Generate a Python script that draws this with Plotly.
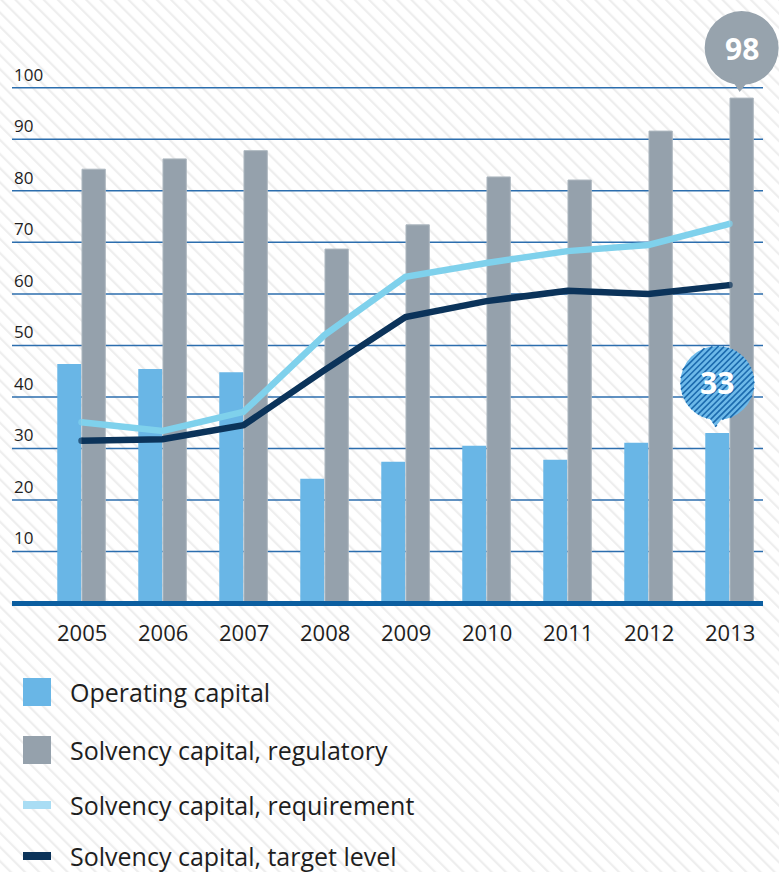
import base64
import math
import plotly.graph_objects as go

# ---- data -------------------------------------------------------------
years = ["2005", "2006", "2007", "2008", "2009", "2010", "2011", "2012", "2013"]
operating_capital = [46.4, 45.4, 44.8, 24.1, 27.4, 30.5, 27.8, 31.1, 33]
solvency_regulatory = [84.2, 86.2, 87.8, 68.7, 73.4, 82.7, 82.1, 91.6, 98]
solvency_requirement = [35.1, 33.4, 37.1, 52.0, 63.3, 66.0, 68.3, 69.5, 73.6]
solvency_target = [31.5, 31.8, 34.5, 45.2, 55.5, 58.6, 60.6, 60.0, 61.7]
y_ticks = [10, 20, 30, 40, 50, 60, 70, 80, 90, 100]

legend_labels = [
    "Operating capital",
    "Solvency capital, regulatory",
    "Solvency capital, requirement",
    "Solvency capital, target level",
]

# ---- styling ----------------------------------------------------------
W, H = 779, 872
FONT = "Open Sans"
C_OPER = "#69B6E6"
C_REG = "#95A1AC"
C_REQ = "#7FD1EC"
C_TGT = "#0B335A"
C_GRID = "#2C6EAE"
C_BASE = "#0B5EA0"
C_TEXT = "#1E1E1E"

# pixel geometry of the plotting frame
PX_PER_UNIT = 5.152
ZERO_PX = 603.0
X0_PX, STEP_PX = 81.5, 81.0
GRID_L, GRID_R = 12 / W, 763 / W

y_range = [(ZERO_PX - H) / PX_PER_UNIT, ZERO_PX / PX_PER_UNIT]
x_range = [(0 - X0_PX) / STEP_PX, (W - X0_PX) / STEP_PX]


def py(p):
    """Figure pixel row -> paper fraction (margins are zero)."""
    return 1 - p / H


fig = go.Figure()

fig.add_trace(go.Bar(
    x=years, y=operating_capital, name=legend_labels[0],
    marker=dict(color=C_OPER, line=dict(width=0)),
    width=0.296, offset=-0.299, showlegend=False,
))
fig.add_trace(go.Bar(
    x=years, y=solvency_regulatory, name=legend_labels[1],
    marker=dict(color=C_REG, line=dict(color="#AEB8C0", width=1)),
    width=0.288, offset=0.006, showlegend=False,
))

end_sizes = [6.5] + [0] * (len(years) - 2) + [6.5]
fig.add_trace(go.Scatter(
    x=years, y=solvency_requirement, name=legend_labels[2],
    mode="lines+markers", line=dict(color=C_REQ, width=6.5),
    marker=dict(color=C_REQ, size=end_sizes, line=dict(width=0)),
    showlegend=False,
))
fig.add_trace(go.Scatter(
    x=years, y=solvency_target, name=legend_labels[3],
    mode="lines+markers", line=dict(color=C_TGT, width=6.5),
    marker=dict(color=C_TGT, size=end_sizes, line=dict(width=0)),
    showlegend=False,
))

shapes = []
annotations = []

# horizontal grid lines and baseline
for v in y_ticks:
    shapes.append(dict(type="line", xref="paper", yref="y", x0=GRID_L, x1=GRID_R,
                       y0=v, y1=v, line=dict(color=C_GRID, width=1.5), layer="below"))
    annotations.append(dict(xref="paper", yref="y", x=GRID_L, y=v, text=str(v),
                            xanchor="left", yanchor="bottom", yshift=0, showarrow=False,
                            font=dict(family=FONT, size=17, color=C_TEXT)))
shapes.append(dict(type="line", xref="paper", yref="y", x0=GRID_L, x1=GRID_R,
                   y0=-0.1, y1=-0.1, line=dict(color=C_BASE, width=5), layer="above"))

# year labels under the baseline
for i, yr in enumerate(years):
    annotations.append(dict(xref="x", yref="y", x=i, y=(ZERO_PX - 632) / PX_PER_UNIT,
                            text=yr, showarrow=False, xanchor="center", yanchor="middle",
                            font=dict(family=FONT, size=22, color=C_TEXT)))


def clip_stripe(poly, d, cy):
    """Clip a 45-degree stripe (offset d from the circle centre) to a convex polygon."""
    ux, uy = 1 / math.sqrt(2), 1 / math.sqrt(2)
    nx, ny = 1 / math.sqrt(2), -1 / math.sqrt(2)
    px, pz = d * nx, cy + d * ny
    t0, t1 = -200.0, 200.0
    n = len(poly)
    area = sum(poly[i][0] * poly[(i + 1) % n][1] - poly[(i + 1) % n][0] * poly[i][1]
               for i in range(n))
    sgn = 1 if area > 0 else -1
    for i in range(n):
        ax, ay = poly[i]
        bx, by = poly[(i + 1) % n]
        ex, ey = bx - ax, by - ay
        inx, iny = -ey * sgn, ex * sgn
        num = inx * (px - ax) + iny * (pz - ay)
        den = inx * ux + iny * uy
        if abs(den) < 1e-9:
            if num < 0:
                return None
            continue
        t = -num / den
        if den > 0:
            t0 = max(t0, t)
        else:
            t1 = min(t1, t)
        if t0 >= t1:
            return None
    return (px + t0 * ux, pz + t0 * uy, px + t1 * ux, pz + t1 * uy)


# ---- value callouts ---------------------------------------------------
def bubble(xc, value, label, fill, hatch=None):
    r = 37
    cy = 50  # circle centre, pixels above the bar top
    common = dict(xref="x", yref="y", xsizemode="pixel", ysizemode="pixel",
                  xanchor=xc, yanchor=value, layer="above")
    tri = [(-11, cy - r + 7), (9, cy - r + 7), (-2, 6)]
    shapes.append(dict(type="circle", x0=-r, x1=r, y0=cy - r, y1=cy + r,
                       fillcolor=fill, line=dict(width=0), **common))
    tri_path = "M {} {} L {} {} L {} {} Z".format(*[c for p in tri for c in p])
    shapes.append(dict(type="path", path=tri_path, fillcolor=fill,
                       line=dict(width=0), **common))
    if hatch:
        circ = [(r * math.cos(2 * math.pi * k / 72), cy + r * math.sin(2 * math.pi * k / 72))
                for k in range(72)]
        segs = []
        for poly in (circ, tri):
            for s in range(-20, 21):
                seg = clip_stripe(poly, s * 4.2, cy)
                if seg:
                    segs.append("M {:.2f} {:.2f} L {:.2f} {:.2f}".format(*seg))
        shapes.append(dict(type="path", path=" ".join(segs),
                           line=dict(color=hatch, width=1.6), **common))
    annotations.append(dict(xref="x", yref="y", x=xc, y=value, yshift=cy,
                            text="<b>%s</b>" % label, showarrow=False,
                            xanchor="center", yanchor="middle",
                            font=dict(family=FONT, size=30, color="white")))


n_last = len(years) - 1
bubble(n_last + 0.15, solvency_regulatory[-1], "%g" % solvency_regulatory[-1], "#97A3AD")
bubble(n_last - 0.15, operating_capital[-1], "%g" % operating_capital[-1], "#6DB9E9",
       hatch="#1C6BAF")

# ---- legend -----------------------------------------------------------
legend_rows = [
    (692, "square", C_OPER),
    (750, "square", C_REG),
    (805, "bar", "#A9DDF4"),
    (856, "bar", C_TGT),
]
for (cy_px, kind, col), text in zip(legend_rows, legend_labels):
    half = 14 if kind == "square" else 4
    shapes.append(dict(type="rect", xref="paper", yref="paper",
                       x0=23 / W, x1=51 / W, y0=py(cy_px + half), y1=py(cy_px - half),
                       fillcolor=col, line=dict(width=0)))
    annotations.append(dict(xref="paper", yref="paper", x=68 / W, y=py(cy_px), text=text,
                            xanchor="left", yanchor="middle", showarrow=False,
                            font=dict(family=FONT, size=25, color=C_TEXT)))

# ---- faint diagonal background texture --------------------------------
svg = (
    '<svg xmlns="http://www.w3.org/2000/svg" width="{w}" height="{h}">'
    '<defs><pattern id="p" width="10" height="10" patternUnits="userSpaceOnUse" '
    'patternTransform="rotate(-45)">'
    '<rect width="10" height="10" fill="#ffffff"/>'
    '<rect x="0" y="0" width="2.2" height="10" fill="#eeeeee"/></pattern></defs>'
    '<rect width="{w}" height="{h}" fill="url(#p)"/></svg>'
).format(w=W, h=H)
bg_src = "data:image/svg+xml;base64," + base64.b64encode(svg.encode()).decode()

fig.update_layout(
    width=W, height=H,
    margin=dict(l=0, r=0, t=0, b=0),
    paper_bgcolor="white",
    plot_bgcolor="rgba(0,0,0,0)",
    barmode="overlay",
    showlegend=False,
    shapes=shapes,
    annotations=annotations,
    images=[dict(source=bg_src, xref="paper", yref="paper", x=0, y=1,
                 sizex=1, sizey=1, sizing="stretch", xanchor="left", yanchor="top",
                 layer="below")],
    xaxis=dict(type="category", range=x_range, domain=[0, 1], showgrid=False,
               showticklabels=False, zeroline=False, showline=False, fixedrange=True),
    yaxis=dict(range=y_range, domain=[0, 1], showgrid=False, showticklabels=False,
               zeroline=False, showline=False, fixedrange=True),
    font=dict(family=FONT),
)

fig.write_html("out.html")
